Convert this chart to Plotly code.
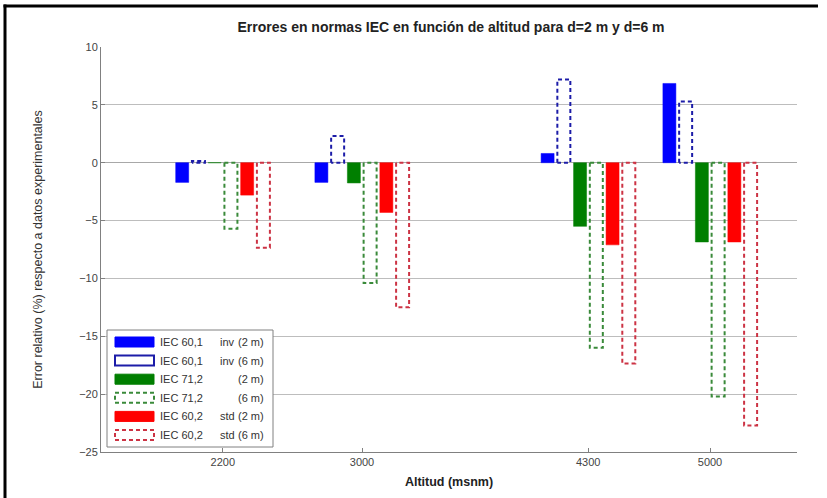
import plotly.graph_objects as go

# ---------------- data ----------------
altitudes = [2200, 3000, 4300, 5000]
x_tick_labels = ["2200", "3000", "4300", "5000"]
y_ticks = [-25, -20, -15, -10, -5, 0, 5, 10]

iec601_inv_2m = [-1.7, -1.7, 0.8, 6.85]
iec601_inv_6m = [0.15, 2.3, 7.2, 5.3]
iec712_2m = [0.0, -1.75, -5.5, -6.85]
iec712_6m = [-5.7, -10.4, -16.0, -20.2]
iec602_std_2m = [-2.8, -4.3, -7.1, -6.85]
iec602_std_6m = [-7.35, -12.5, -17.35, -22.7]

legend_norm = ["IEC 60,1", "IEC 60,1", "IEC 71,2", "IEC 71,2", "IEC 60,2", "IEC 60,2"]
legend_type = ["inv", "inv", "", "", "std", "std"]
legend_dist = ["(2 m)", "(6 m)", "(2 m)", "(6 m)", "(2 m)", "(6 m)"]

series = [iec601_inv_2m, iec601_inv_6m, iec712_2m, iec712_6m, iec602_std_2m, iec602_std_6m]

# ---------------- styles ----------------
W, H = 827, 498
ML, MR, MT, MB = 101, 30, 47, 46
PW, PH = W - ML - MR, H - MT - MB

fill_colors = ["#0000ff", None, "#007f00", None, "#ff0000", None]
edge_colors = ["#0000ff", "#1c1ca8", "#007f00", "#3a8a3a", "#ff0000", "#cc3344"]
dashed = [False, True, False, True, False, True]
dash_pat = "4px,3px"

n = len(series)
min_gap = min(b - a for a, b in zip(altitudes[:-1], altitudes[1:]))
slot = min_gap * 0.8 / n
bar_w = slot * 0.8

def px(x):
    return (x - ML) / PW

def py(y):
    return (H - MB - y) / PH

fig = go.Figure()

for i, vals in enumerate(series):
    off = (i - (n - 1) / 2) * slot - bar_w / 2
    name = " ".join(t for t in (legend_norm[i], legend_type[i], legend_dist[i]) if t)
    if not dashed[i]:
        fig.add_trace(go.Bar(
            x=altitudes, y=vals, offset=off, width=bar_w, name=name,
            marker=dict(color=fill_colors[i], line=dict(color=edge_colors[i], width=0.5)),
            showlegend=False,
        ))
    else:
        xs, ys = [], []
        for x, v in zip(altitudes, vals):
            x0, x1 = x + off, x + off + bar_w
            xs += [x0, x0, x1, x1, x0, None]
            ys += [0, v, v, 0, 0, None]
        fig.add_trace(go.Scatter(
            x=xs, y=ys, mode="lines", name=name, showlegend=False,
            line=dict(color=edge_colors[i], width=2, dash=dash_pat),
            hoverinfo="skip",
        ))

shapes = []
annotations = []

# outer frame (top and left edges) as thin filled rectangles
shapes.append(dict(type="rect", xref="paper", yref="paper",
                   x0=px(3.5), x1=px(818), y0=py(4.5), y1=py(7.5),
                   fillcolor="black", line=dict(width=0)))
shapes.append(dict(type="rect", xref="paper", yref="paper",
                   x0=px(3.5), x1=px(6.5), y0=py(4.5), y1=py(498),
                   fillcolor="black", line=dict(width=0)))

# legend box
lx0, ly0, lx1, ly1 = 107, 330, 273, 447
shapes.append(dict(type="rect", xref="paper", yref="paper",
                   x0=px(lx0), x1=px(lx1), y0=py(ly0), y1=py(ly1),
                   line=dict(color="#808080", width=1), fillcolor="white", layer="above"))
row0, row_step = 342, 18.6
leg_font = dict(size=11, color="#333333")
for i in range(n):
    cy = row0 + i * row_step
    sx0, sx1 = 115, 154
    if fill_colors[i] is not None:
        shapes.append(dict(type="rect", xref="paper", yref="paper",
                           x0=px(sx0), x1=px(sx1), y0=py(cy - 5), y1=py(cy + 5),
                           fillcolor=fill_colors[i], line=dict(color=edge_colors[i], width=1),
                           layer="above"))
    else:
        shapes.append(dict(type="rect", xref="paper", yref="paper",
                           x0=px(sx0), x1=px(sx1), y0=py(cy - 5), y1=py(cy + 5),
                           fillcolor="white",
                           line=dict(color=edge_colors[i], width=2,
                                     dash="solid" if i == 1 else dash_pat),
                           layer="above"))
    annotations.append(dict(xref="paper", yref="paper", x=px(158), y=py(cy),
                            text=legend_norm[i], showarrow=False, xanchor="left",
                            yanchor="middle", font=leg_font))
    if legend_type[i]:
        annotations.append(dict(xref="paper", yref="paper", x=px(218), y=py(cy),
                                text=legend_type[i], showarrow=False, xanchor="left",
                                yanchor="middle", font=leg_font))
    annotations.append(dict(xref="paper", yref="paper", x=px(266), y=py(cy),
                            text=legend_dist[i], showarrow=False, xanchor="right",
                            yanchor="middle", font=leg_font))

fig.update_layout(
    width=W, height=H,
    margin=dict(l=ML, r=MR, t=MT, b=MB, autoexpand=False),
    paper_bgcolor="white", plot_bgcolor="white",
    font=dict(family="Liberation Sans, Arial, sans-serif", color="#333333"),
    barmode="overlay",
    showlegend=False,
    title=dict(text="<b>Errores en normas IEC en función de altitud para d=2 m y d=6 m</b>",
               xref="paper", x=px(451), xanchor="center",
               yref="container", y=1 - 27 / H, yanchor="middle",
               font=dict(size=14, color="#222222")),
    xaxis=dict(range=[1500, 5500], tickvals=altitudes, ticktext=x_tick_labels,
               showgrid=False, zeroline=False, showline=True, linecolor="#808080",
               ticks="inside", ticklen=4, tickcolor="#808080",
               tickfont=dict(size=11, color="#444444"),
               title=dict(text="<b>Altitud (msnm)</b>", standoff=10,
                          font=dict(size=12.5, color="#222222"))),
    yaxis=dict(range=[-25, 10], tickvals=y_ticks,
               showgrid=True, gridcolor="#bdbdbd", gridwidth=1,
               zeroline=True, zerolinecolor="#a8a8a8", zerolinewidth=1,
               showline=True, linecolor="#808080",
               ticks="inside", ticklen=4, tickcolor="#808080",
               tickfont=dict(size=11, color="#444444"),
               title=dict(text="Error relativo (%) respecto a datos experimentales", standoff=33,
                          font=dict(size=12.5, color="#333333"))),
    shapes=shapes,
    annotations=annotations,
)

fig.write_html("out.html", config={"displayModeBar": False},
               post_script="document.body.style.margin='0';document.body.style.padding='0';document.body.style.overflow='hidden';")
